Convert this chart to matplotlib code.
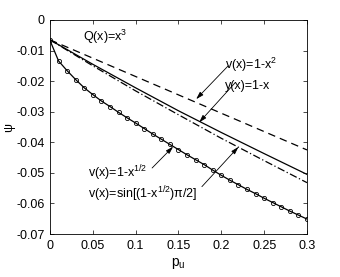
import numpy as np
import matplotlib
matplotlib.use("Agg")
import matplotlib.pyplot as plt

plt.rcParams['font.family'] = ['Liberation Sans', 'DejaVu Sans']
plt.rcParams['mathtext.default'] = 'regular'
plt.rcParams['font.size'] = 9

# Data
p_lines = [0.0, 0.05, 0.10, 0.15, 0.20, 0.25, 0.30]
psi_quad = [-0.0065, -0.0125, -0.0185, -0.0245, -0.0305, -0.0365, -0.0425]   # v(x)=1-x^2
psi_lin = [-0.0065, -0.0145, -0.0222, -0.0297, -0.0368, -0.0437, -0.0505]    # v(x)=1-x
psi_sin = [-0.0065, -0.0150, -0.0232, -0.0310, -0.0387, -0.0460, -0.0532]    # sin[(1-x^1/2)pi/2]

p_sqrt = [0.00, 0.01, 0.02, 0.03, 0.04, 0.05, 0.06, 0.07, 0.08, 0.09, 0.10,
          0.11, 0.12, 0.13, 0.14, 0.15, 0.16, 0.17, 0.18, 0.19, 0.20,
          0.21, 0.22, 0.23, 0.24, 0.25, 0.26, 0.27, 0.28, 0.29, 0.30]
psi_sqrt = [-0.0067, -0.0134, -0.0166, -0.0195, -0.0222, -0.0244, -0.0265, -0.0283,
            -0.0302, -0.0320, -0.0337, -0.0355, -0.0373, -0.0390, -0.0407, -0.0424,
            -0.0441, -0.0457, -0.0473, -0.0491, -0.0508, -0.0524, -0.0539, -0.0554,
            -0.0568, -0.0583, -0.0597, -0.0611, -0.0625, -0.0638, -0.0651]

xticks = [0, 0.05, 0.1, 0.15, 0.2, 0.25, 0.3]
xticklabels = ['0', '0.05', '0.1', '0.15', '0.2', '0.25', '0.3']
yticks = [0, -0.01, -0.02, -0.03, -0.04, -0.05, -0.06, -0.07]
yticklabels = ['0', '-0.01', '-0.02', '-0.03', '-0.04', '-0.05', '-0.06', '-0.07']

fig = plt.figure(figsize=(3.4, 2.77), dpi=100)
ax = fig.add_axes([0.147, 0.155, 0.756, 0.773])

lw = 0.9
ax.plot(p_lines, psi_quad, color='black', lw=lw, linestyle=(0, (6, 4)))
ax.plot(p_lines, psi_lin, color='black', lw=lw, linestyle='-')
ax.plot(p_lines, psi_sin, color='black', lw=lw, linestyle=(0, (6, 2, 1, 2)))
ax.plot(p_sqrt, psi_sqrt, color='black', lw=lw, marker='o', markersize=3,
        markerfacecolor='none', markeredgewidth=0.6)

ax.set_xlim(0, 0.3)
ax.set_ylim(-0.07, 0)
ax.set_xticks(xticks)
ax.set_xticklabels(xticklabels)
ax.set_yticks(yticks)
ax.set_yticklabels(yticklabels)
ax.tick_params(direction='in', top=True, right=True, length=3, width=0.5,
               labelsize=9, pad=4)
for s in ax.spines.values():
    s.set_linewidth(0.6)

ax.set_xlabel('p$_u$', fontsize=10, labelpad=3)
ax.set_ylabel('ψ', fontsize=9)
ax.yaxis.set_label_coords(-0.135, 0.5)

fs = 9
ax.text(0.0386, -0.0056, 'Q(x)=x$^3$', fontsize=fs, va='center', ha='left')

arrow = dict(arrowstyle='-|>,head_length=0.5,head_width=0.15', color='black', lw=0.6,
             shrinkA=0, shrinkB=0)
ax.text(0.2045, -0.0147, 'v(x)=1-x$^2$', fontsize=fs, va='center', ha='left')
ax.annotate('', xy=(0.1706, -0.0259), xytext=(0.208, -0.0150), arrowprops=arrow)
ax.text(0.2045, -0.0217, 'y(x)=1-x', fontsize=fs, va='center', ha='left')
ax.annotate('', xy=(0.1741, -0.0335), xytext=(0.2162, -0.0205), arrowprops=arrow)
ax.text(0.0444, -0.0500, 'v(x)=1-x$^{1/2}$', fontsize=fs, va='center', ha='left')
ax.annotate('', xy=(0.1438, -0.0414), xytext=(0.1192, -0.0484), arrowprops=arrow)
ax.text(0.0444, -0.0569, 'v(x)=sin[(1-x$^{1/2}$)$\\pi$/2]', fontsize=fs, va='center', ha='left')
ax.annotate('', xy=(0.2200, -0.0415), xytext=(0.1773, -0.0545), arrowprops=arrow)

fig.savefig('out.png', dpi=100)
